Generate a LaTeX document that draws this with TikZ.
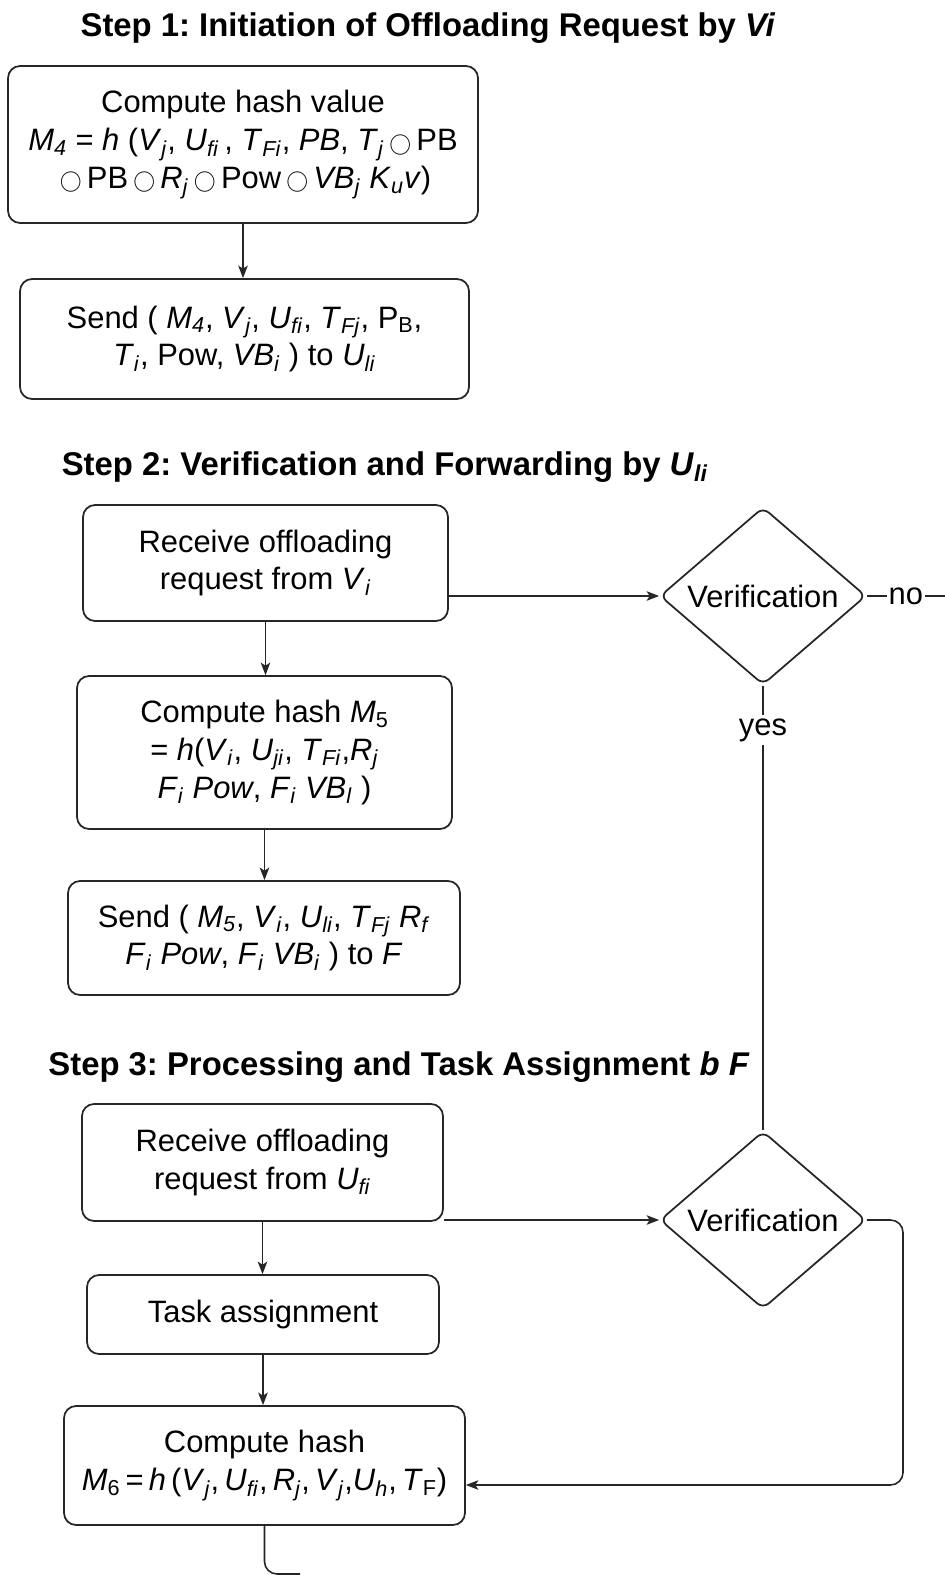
\documentclass[tikz,border=0pt]{standalone}
\usepackage{fontspec}
\setmainfont{Liberation Sans}
\usepackage{tikz}
\usetikzlibrary{positioning,shapes.geometric,arrows.meta}
\frenchspacing
\tikzstyle{stp}=[draw=black!85, line width=1pt, rounded corners=0.24cm, align=center, inner sep=0pt]
\tikzstyle{dec}=[draw=black!85, line width=1pt, diamond, rounded corners=0.15cm, minimum width=4.12cm, minimum height=3.55cm, inner sep=0pt]
\tikzstyle{ttl}=[font=\fontsize{18.7}{22}\selectfont\bfseries]
\tikzstyle{lnk}=[draw=black!85, line width=0.9pt]
\newcommand{\vs}[2]{\textit{#1}\textsubscript{\textit{#2}}}
\newcommand{\oo}{\,\raisebox{0.05ex}{\scalebox{0.72}{$\bigcirc$}}\,}

\begin{document}
\begin{tikzpicture}[x=0.02cm,y=-0.02cm,>={Stealth[length=2.5mm,width=1.9mm,inset=0.6mm]},font=\fontsize{17.6}{21.6}\selectfont]
\useasboundingbox (0,0) rectangle (945,1575);

% step 1
\node[ttl] at (428,28) (title1) {Step 1: Initiation of Offloading Request by \textit{Vi}};
\node[stp, minimum width=9.4cm, minimum height=3.14cm] at (243,144.5) (hash1) {Compute hash value\\
  \vs{M}{4} = \textit{h} (\vs{V}{j}, \vs{U}{fi}\,, \vs{T}{Fi}, \textit{PB}, \vs{T}{j}\oo PB\\
  \oo PB\oo\vs{R}{j}\oo Pow\oo\vs{VB}{j} \vs{K}{u}\textit{v})};
\node[stp, minimum width=8.98cm, minimum height=2.4cm] at (244.5,339) (send1) {Send ( \vs{M}{4}, \vs{V}{j}, \vs{U}{fi}, \vs{T}{Fj}, P\textsubscript{B}, \\
  \vs{T}{i}, Pow, \vs{VB}{i} ) to \vs{U}{li}};
\draw[lnk,->] (hash1) -- (hash1 |- send1.north);

% step 2
\node[ttl] at (385,467) (title2) {Step 2: Verification and Forwarding by \vs{U}{li}};
\node[stp, minimum width=7.3cm, minimum height=2.32cm] at (265.5,563) (rec1) {Receive offloading\\request from \vs{V}{i}};
\node[dec] at (763,596) (dia1) {Verification};
\node[stp, minimum width=7.5cm, minimum height=3.06cm] at (264.5,752.5) (hash2) {Compute hash \textit{M}\textsubscript{5}\\
  = \textit{h}(\vs{V}{i}, \vs{U}{ji}, \vs{T}{Fi},\vs{R}{j}\\
  \vs{F}{i} \textit{Pow}, \vs{F}{i} \vs{VB}{l} )};
\node[stp, minimum width=7.84cm, minimum height=2.28cm] at (264,938) (send2) {Send ( \vs{M}{5}, \vs{V}{i}, \vs{U}{li}, \vs{T}{Fj} \vs{R}{f}\\
  \vs{F}{i} \textit{Pow}, \vs{F}{i} \vs{VB}{i} ) to \textit{F}};
\draw[lnk,->] (rec1) -- (rec1 |- hash2.north);
\draw[lnk,->] (hash2) -- (hash2 |- send2.north);
\draw[lnk,->] (dia1.west -| rec1.east) -- (dia1.west);

\coordinate (noend) at (945,596);
\draw[lnk] (dia1.east) -- node[fill=white, inner sep=1pt] {no} (noend);

% step 3
\node[ttl] at (399,1067) (title3) {Step 3: Processing and Task Assignment \textit{b F}};
\node[stp, minimum width=7.22cm, minimum height=2.34cm] at (262.5,1162.5) (rec2) {Receive offloading\\request from \vs{U}{fi}};
\node[dec] at (763,1220) (dia2) {Verification};
\node[stp, minimum width=7.04cm, minimum height=1.58cm] at (263,1314.5) (task) {Task assignment};
\node[stp, minimum width=8.02cm, minimum height=2.38cm] at (264.5,1465.5) (hash3) {Compute hash\\
  \textit{M}\textsubscript{6}\,=\,\textit{h}\,(\vs{V}{j},\,\vs{U}{fi},\,\vs{R}{j},\,\vs{V}{j},\vs{U}{h},\,\textit{T}\textsubscript{F})};
\draw[lnk,->] (rec2) -- (rec2 |- task.north);
\draw[lnk,->] (task) -- (task |- hash3.north);
\draw[lnk,->] (dia2.west -| rec2.east) -- (dia2.west);

\draw[lnk] (dia1.south) -- node[fill=white, inner sep=2pt, pos=0.1] {yes} (dia2.north);

\coordinate (rt) at (903,1485);
\draw[lnk,->,rounded corners=0.25cm] (dia2.east) -| (rt) -- (rt -| hash3.east);

\coordinate (tail) at (300,1574);
\draw[lnk,rounded corners=0.25cm] (hash3.south) |- (tail);
\end{tikzpicture}
\end{document}
